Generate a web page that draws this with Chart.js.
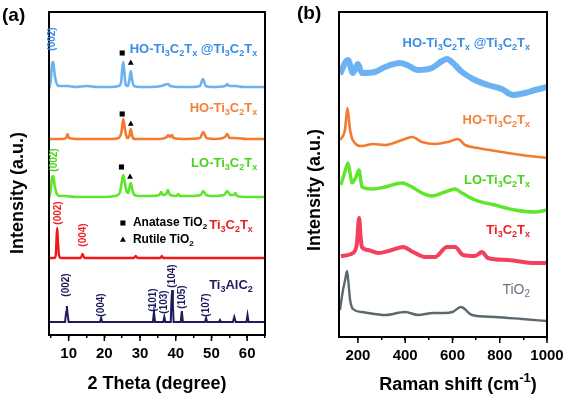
<!DOCTYPE html>
<html>
<head>
<meta charset="utf-8">
<script src="https://cdn.jsdelivr.net/npm/chart.js@4.4.1/dist/chart.umd.min.js"></script>
<style>
  html, body { margin: 0; padding: 0; background: #fff; }
  #wrap { position: relative; width: 567px; height: 400px; }
  canvas { position: absolute; top: 0; }
  #xrd { left: 0; }
  #raman { left: 283px; }
</style>
</head>
<body>
<div id="wrap">
  <canvas id="xrd" width="283" height="400"></canvas>
  <canvas id="raman" width="284" height="400"></canvas>
</div>
<script>
// ---- (a) XRD: 2θ (deg) and stacked intensity (a.u.) ----
const xrdHybridX = [4.5,5.0,5.4,5.7,6.0,6.5,7.2,9.6,12,15,18,20,22,24,24.7,25.0,25.3,25.6,26.0,26.6,27.0,27.4,27.8,28.3,30,33,36,37.8,38.5,41,44,46.8,47.6,48.4,50,53.9,54.4,55,56.6,59,62,65];
const xrdHybridY = [246,255,272,273,263,253,249,249,248,249,248,248,248,249,253,265,273,263,250,249,255,264,255,249,248,248,249,251,249,248,248,249,256,249,248,249,251,249,249,248,248,248];

const xrdHOX = [4.5,8,9.3,9.7,10.1,13,18,22,24,24.8,25.3,25.8,26.4,27.0,27.4,27.8,28.5,31,35,37.5,37.9,38.4,38.9,39.4,42,46.8,47.7,48.6,51,53.8,54.4,55.1,56.5,60,65];
const xrdHOY = [196,196,197,201,197,196,196,196,197,203,216,205,197,199,206,199,196,196,196,198,200,198,200,197,196,197,203,197,196,198,201,197,197,196,196];

const xrdLOX = [4.5,5.0,5.4,5.7,6.1,6.6,7.4,9,12,16,20,23,24.3,24.9,25.3,25.8,26.3,26.7,27.0,27.4,27.8,28.4,30,33,35.4,35.9,36.4,37.3,37.8,38.4,40.2,40.7,41.2,44,47.0,47.7,48.5,50,53.5,54.4,55.3,56.3,56.7,57.2,60,65];
const xrdLOY = [137,145,158,159,149,142,139,139,138,138,138,139,142,153,160,151,143,142,147,152,146,140,139,139,140,143,140,141,145,140,139,141,139,139,140,144,140,139,140,144,140,140,142,139,138,138];

const xrdMXeneX = [4.5,6.0,6.4,6.6,6.8,7.0,7.3,7.8,10,13.4,13.9,14.4,16,20,25,28.3,28.8,29.3,33,35.7,36.1,36.5,40,45,50,55,60,65];
const xrdMXeneY = [77,77,80,95,107,94,80,77,77,77,81,77,77,77,77,77,79,77,77,77,79,77,77,77,77,77,77,77];

const xrdMAXX = [4.5,9.0,9.3,9.5,9.7,10.0,18.8,19.1,19.4,33.6,33.9,34.2,36.5,36.8,37.1,38.6,38.8,39.0,39.2,39.4,41.4,41.7,42.0,48.2,48.5,48.8,52.1,52.4,52.7,56.0,56.4,56.8,59.8,60.1,60.4,65];
const xrdMAXY = [13,13,23,29,21,13,13,17,13,13,23,13,13,18,13,13,35,45,30,13,13,24,13,13,17,13,13,15,13,13,18,13,13,20,13,13];

// anatase (square) and rutile (triangle) marks above the peaks
const anataseX = [25.0, 25.0, 24.8, 25.2];
const anataseY = [282, 221, 168, 112];
const rutileX = [27.4, 27.4, 27.2, 25.2];
const rutileY = [272, 211, 158, 95];

const xrdTicks = [5,10,15,20,25,30,35,40,45,50,55,60,65];

// ---- (b) Raman: shift (cm-1) and stacked intensity (a.u.) ----
const ramanHybridX = [124,158,179,200,217,272,315,378,408,454,513,556,577,602,640,695,750,809,856,907,949,1000];
const ramanHybridY = [263,277,264,273,264,265,270,274,272,267,269,276,278,274,265,257,252,248,242,244,247,250];

const ramanHOX = [124,145,156,165,178,217,264,315,387,429,471,526,581,623,653,708,809,894,1000];
const ramanHOY = [197,207,229,210,197,191,193,192,197,200,195,193,195,198,192,189,185,182,179];

const ramanLOX = [128,145,158,168,175,190,205,217,264,315,387,421,471,513,568,611,640,695,780,865,949,1000];
const ramanLOY = [152,165,174,162,154,159,167,150,148,150,154,151,144,141,145,148,144,137,132,127,125,127];

const ramanMXeneX = [128,179,196,205,212,217,243,285,344,391,433,484,526,577,611,645,695,725,750,835,949,1000];
const ramanMXeneY = [81,84,94,119,99,90,87,84,87,90,85,80,80,90,90,82,81,85,79,77,74,74];

const ramanTiO2X = [124,137,146,154,162,167,179,217,315,400,454,518,568,600,636,683,780,894,1000];
const ramanTiO2Y = [27,47,57,66,49,37,28,25,22,25,22,24,24,25,30,22,20,18,16];

const ramanTicks = [200,300,400,500,600,700,800,900,1000];

const FONT = '"Liberation Sans", Arial, sans-serif';
const C = {
  blue: '#6cb2f2', blueTxt: '#3a8de6',
  orange: '#f47a30', orangeTxt: '#f4803c',
  green: '#5ee62a', greenTxt: '#48d41c',
  red: '#f01818', redRaman: '#f2405e', redTxt: '#f02020',
  navy: '#1b1b5e', gray: '#5c6870', grayTxt: '#6b7682'
};

const pts = (xs, ys) => xs.map((x, i) => ({ x, y: ys[i] }));

function line(xs, ys, color, width, tension) {
  return {
    type: 'line', data: pts(xs, ys), borderColor: color, borderWidth: width,
    pointRadius: 0, fill: false, tension: tension || 0,
    cubicInterpolationMode: tension ? 'monotone' : 'default'
  };
}

// text with _x subscripts and ^{..} superscripts
function parse(s) {
  const out = []; let i = 0;
  while (i < s.length) {
    if (s[i] === '_') { out.push([s[i + 1], 'sub']); i += 2; }
    else if (s[i] === '^') { const j = s.indexOf('}', i); out.push([s.slice(i + 2, j), 'sup']); i = j + 1; }
    else { let j = i; while (j < s.length && s[j] !== '_' && s[j] !== '^') j++; out.push([s.slice(i, j), '']); i = j; }
  }
  return out;
}

function rich(ctx, str, x, y, size, weight, color, align) {
  const parts = parse(str);
  const fontOf = m => weight + ' ' + (m ? Math.round(size * 0.7) : size) + 'px ' + FONT;
  let w = 0;
  parts.forEach(([t, m]) => { ctx.font = fontOf(m); w += ctx.measureText(t).width; });
  let cx = align === 'right' ? x - w : align === 'center' ? x - w / 2 : x;
  ctx.fillStyle = color; ctx.textAlign = 'left'; ctx.textBaseline = 'middle';
  parts.forEach(([t, m]) => {
    ctx.font = fontOf(m);
    const dy = m === 'sub' ? size * 0.32 : m === 'sup' ? -size * 0.38 : 0;
    ctx.fillText(t, cx, y + dy);
    cx += ctx.measureText(t).width;
  });
}

const deco = {
  id: 'deco',
  afterDraw(chart, args, o) {
    const { ctx, chartArea: a, scales: { x, y } } = chart;
    ctx.save();
    // longer marks for the labelled (major) ticks
    ctx.strokeStyle = '#000'; ctx.lineWidth = 1.5;
    x.ticks.forEach(t => {
      if (t.value % o.major !== 0) return;
      const px = x.getPixelForValue(t.value);
      ctx.beginPath(); ctx.moveTo(px, a.bottom); ctx.lineTo(px, a.bottom + 6); ctx.stroke();
    });
    ctx.lineWidth = 2;
    ctx.strokeRect(a.left, a.top, a.right - a.left, a.bottom - a.top);
    rich(ctx, o.panel, o.panelPos[0], o.panelPos[1], 19, 'bold', '#000', 'left');
    rich(ctx, o.xTitle, o.xTitlePos[0], o.xTitlePos[1], 18, 'bold', '#000', 'center');
    ctx.save();
    ctx.translate(o.yTitlePos[0], o.yTitlePos[1]);
    ctx.rotate(-Math.PI / 2);
    rich(ctx, 'Intensity (a.u.)', 0, 0, 18, 'bold', '#000', 'center');
    ctx.restore();
    o.labels.forEach(l => rich(ctx, l.text, x.getPixelForValue(l.x), y.getPixelForValue(l.y),
      l.size || 13, l.weight || 'bold', l.color, l.align || 'right'));
    (o.hkl || []).forEach(h => {
      ctx.save();
      ctx.translate(x.getPixelForValue(h.x), y.getPixelForValue(h.y));
      ctx.rotate(-Math.PI / 2);
      ctx.font = 'bold 10px ' + FONT; ctx.fillStyle = h.color;
      ctx.textAlign = 'center'; ctx.textBaseline = 'middle';
      ctx.fillText(h.text, 0, 0);
      ctx.restore();
    });
    ctx.restore();
  }
};

function xScale(min, max, ticks, major, height) {
  return {
    type: 'linear', min, max,
    afterBuildTicks: s => { s.ticks = ticks.map(v => ({ value: v })); },
    afterFit: s => { s.height = height; s.paddingLeft = 0; s.paddingRight = 0; },
    ticks: {
      autoSkip: false, maxRotation: 0, padding: 7, color: '#000',
      font: { family: FONT, size: 15, weight: 'bold' },
      callback: v => (v % major === 0 ? String(v) : '')
    },
    grid: { drawOnChartArea: false, drawTicks: true, tickLength: 3, color: '#000', lineWidth: 1.5 },
    border: { display: false }
  };
}

const base = {
  responsive: false, animation: false, events: [],
  plugins: { legend: { display: false }, tooltip: { enabled: false } }
};

const K = 'Ti_3C_2T_x';

new Chart(document.getElementById('xrd'), {
  type: 'line',
  data: {
    datasets: [
      line(xrdHybridX, xrdHybridY, C.blue, 2.6, 0.3),
      line(xrdHOX, xrdHOY, C.orange, 2.6, 0.3),
      line(xrdLOX, xrdLOY, C.green, 2.6, 0.3),
      line(xrdMXeneX, xrdMXeneY, C.red, 2.4, 0.3),
      line(xrdMAXX, xrdMAXY, C.navy, 2, 0),
      { type: 'scatter', data: pts(anataseX, anataseY), pointStyle: 'rect', pointRadius: 3.6,
        backgroundColor: '#000', borderColor: '#000', borderWidth: 0 },
      { type: 'scatter', data: pts(rutileX, rutileY), pointStyle: 'triangle', pointRadius: 3.4,
        backgroundColor: '#000', borderColor: '#000', borderWidth: 0 }
    ]
  },
  options: Object.assign({}, base, {
    layout: { padding: { left: 49, right: 18, top: 12, bottom: 0 } },
    scales: {
      x: xScale(4.5, 65, xrdTicks, 10, 65),
      y: { display: false, min: 0, max: 323 }
    },
    plugins: Object.assign({}, base.plugins, {
      deco: {
        major: 10,
        panel: '(a)', panelPos: [2, 16],
        xTitle: '2 Theta (degree)', xTitlePos: [157, 384],
        yTitlePos: [18, 193],
        labels: [
          { text: 'HO-' + K + ' @' + K, x: 62.8, y: 286, color: C.blueTxt },
          { text: 'HO-' + K, x: 62.8, y: 227, color: C.orangeTxt },
          { text: 'LO-' + K, x: 62.8, y: 172, color: C.greenTxt },
          { text: K, x: 61.6, y: 110, color: C.redTxt },
          { text: 'Ti_3AlC_2', x: 61.6, y: 50, color: C.navy },
          { text: 'Anatase TiO_2', x: 28.0, y: 112, color: '#000', align: 'left', size: 12 },
          { text: 'Rutile TiO_2', x: 28.0, y: 95, color: '#000', align: 'left', size: 12 }
        ],
        hkl: [
          { text: '(002)', x: 5.3, y: 296, color: C.blueTxt },
          { text: '(002)', x: 5.9, y: 175, color: C.greenTxt },
          { text: '(002)', x: 7.0, y: 122, color: C.redTxt },
          { text: '(004)', x: 14.0, y: 100, color: C.redTxt },
          { text: '(002)', x: 9.4, y: 50, color: C.navy },
          { text: '(004)', x: 19.2, y: 30, color: C.navy },
          { text: '(101)', x: 33.8, y: 35, color: C.navy },
          { text: '(103)', x: 36.9, y: 33, color: C.navy },
          { text: '(104)', x: 38.9, y: 59, color: C.navy },
          { text: '(105)', x: 41.9, y: 38, color: C.navy },
          { text: '(107)', x: 48.5, y: 30, color: C.navy }
        ]
      }
    })
  }),
  plugins: [deco]
});

new Chart(document.getElementById('raman'), {
  type: 'line',
  data: {
    datasets: [
      line(ramanHybridX, ramanHybridY, C.blue, 6, 0.3),
      line(ramanHOX, ramanHOY, C.orange, 2.6, 0.3),
      line(ramanLOX, ramanLOY, C.green, 3.4, 0.3),
      line(ramanMXeneX, ramanMXeneY, C.redRaman, 4, 0.3),
      line(ramanTiO2X, ramanTiO2Y, C.gray, 2.4, 0.3)
    ]
  },
  options: Object.assign({}, base, {
    layout: { padding: { left: 56, right: 20, top: 12, bottom: 0 } },
    scales: {
      x: xScale(120, 1000, ramanTicks, 200, 63),
      y: { display: false, min: 0, max: 325 }
    },
    plugins: Object.assign({}, base.plugins, {
      deco: {
        major: 200,
        panel: '(b)', panelPos: [14, 14],
        xTitle: 'Raman shift (cm^{-1})', xTitlePos: [175, 385],
        yTitlePos: [32, 190],
        labels: [
          { text: 'HO-' + K + ' @' + K, x: 928, y: 294, color: C.blueTxt },
          { text: 'HO-' + K, x: 928, y: 217, color: C.orangeTxt },
          { text: 'LO-' + K, x: 928, y: 157, color: C.greenTxt },
          { text: K, x: 928, y: 107, color: C.redTxt },
          { text: 'TiO_2', x: 928, y: 47, color: C.grayTxt, weight: 'normal', size: 14 }
        ]
      }
    })
  }),
  plugins: [deco]
});
</script>
</body>
</html>
